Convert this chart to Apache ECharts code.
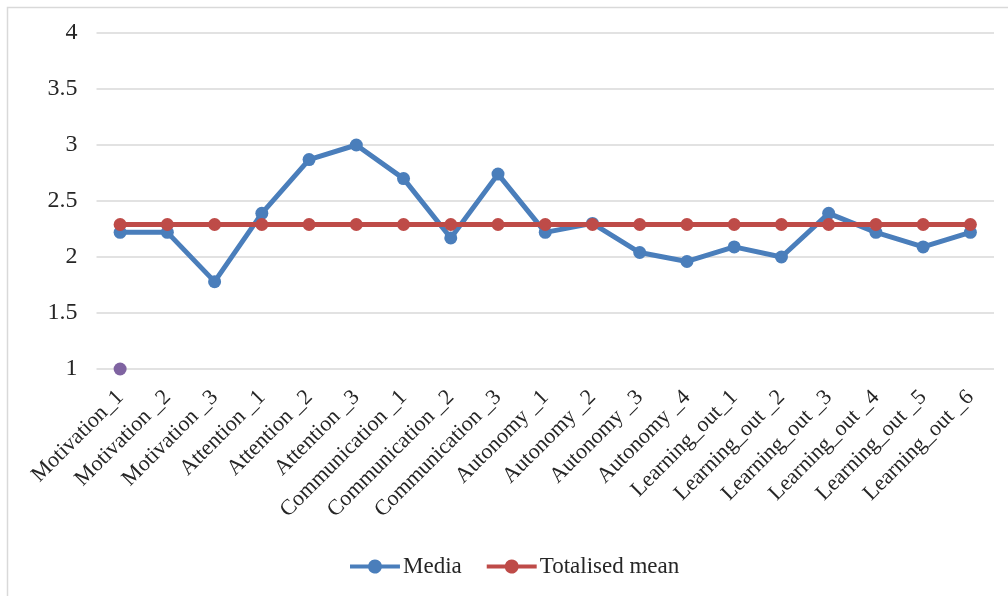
<!DOCTYPE html>
<html>
<head>
<meta charset="utf-8">
<style>
  html, body { margin: 0; padding: 0; background: #fff; }
  #chart { width: 1008px; height: 596px; }
</style>
<script src="https://cdn.jsdelivr.net/npm/echarts@6/dist/echarts.min.js"></script>
</head>
<body>
<div id="chart"></div>
<script>
// Item names along the x axis
const categories = [
  'Motivation_1', 'Motivation _2', 'Motivation _3',
  'Attention _1', 'Attention _2', 'Attention _3',
  'Communication _1', 'Communication _2', 'Communication _3',
  'Autonomy _1', 'Autonomy _2', 'Autonomy _3', 'Autonomy _4',
  'Learning_out_1', 'Learning_out _2', 'Learning_out _3',
  'Learning_out _4', 'Learning_out _5', 'Learning_out _6'
];

// Mean score per item
const media = [
  2.22, 2.22, 1.78,
  2.39, 2.87, 3.00,
  2.70, 2.17, 2.74,
  2.22, 2.30, 2.04, 1.96,
  2.09, 2.00, 2.39,
  2.22, 2.09, 2.22
];

// Overall mean across all items
const totalisedMean = [
  2.29, 2.29, 2.29,
  2.29, 2.29, 2.29,
  2.29, 2.29, 2.29,
  2.29, 2.29, 2.29, 2.29,
  2.29, 2.29, 2.29,
  2.29, 2.29, 2.29
];

// Lone reference point at the first item
const referencePoint = [1];

const yTicks = { min: 1, max: 4, interval: 0.5 };

const font = 'Liberation Serif, "Times New Roman", serif';

const chart = echarts.init(document.getElementById('chart'), null, { renderer: 'canvas' });

chart.setOption({
  backgroundColor: '#ffffff',
  animation: false,
  graphic: [{
    type: 'rect',
    shape: { x: 7.5, y: 7.5, width: 1100, height: 700 },
    style: { fill: 'none', stroke: '#d9d9d9', lineWidth: 1.5 },
    silent: true
  }],
  grid: { left: 96.5, right: 14, top: 33, bottom: 227 },
  legend: {
    top: 550,
    left: 345,
    itemWidth: 50,
    itemHeight: 14,
    itemGap: 25,
    // line with a round marker in the middle
    icon: 'path://M0,5 L18.29,5 A7,7 0 0 1 31.71,5 L50,5 L50,9 L31.71,9 A7,7 0 0 1 18.29,9 L0,9 Z',
    textStyle: { fontFamily: font, fontSize: 23, color: '#262626', padding: [0, 0, 0, -2] },
    data: ['Media', 'Totalised mean']
  },
  xAxis: {
    type: 'category',
    data: categories,
    boundaryGap: true,
    axisLine: { show: false },
    axisTick: { show: false },
    axisLabel: {
      rotate: 45,
      interval: 0,
      margin: 25,
      fontFamily: font,
      fontSize: 22,
      color: '#262626'
    }
  },
  yAxis: {
    type: 'value',
    min: yTicks.min,
    max: yTicks.max,
    interval: yTicks.interval,
    axisLine: { show: false },
    axisTick: { show: false },
    axisLabel: {
      margin: 19,
      fontFamily: font,
      fontSize: 24,
      color: '#262626'
    },
    splitLine: { lineStyle: { color: '#d9d9d9', width: 1.5 } }
  },
  series: [
    {
      name: 'Media',
      type: 'line',
      data: media,
      symbol: 'circle',
      symbolSize: 13,
      color: '#4a7ebb',
      lineStyle: { width: 5, color: '#4a7ebb' },
      itemStyle: { color: '#4a7ebb' },
      z: 3
    },
    {
      name: 'Totalised mean',
      type: 'line',
      data: totalisedMean,
      symbol: 'circle',
      symbolSize: 13,
      color: '#be4b48',
      lineStyle: { width: 5, color: '#be4b48' },
      itemStyle: { color: '#be4b48' },
      z: 4
    },
    {
      name: 'Reference',
      type: 'line',
      data: referencePoint,
      symbol: 'circle',
      symbolSize: 13,
      showSymbol: true,
      lineStyle: { width: 0 },
      itemStyle: { color: '#7f63a1' },
      z: 5
    }
  ]
});
</script>
</body>
</html>
